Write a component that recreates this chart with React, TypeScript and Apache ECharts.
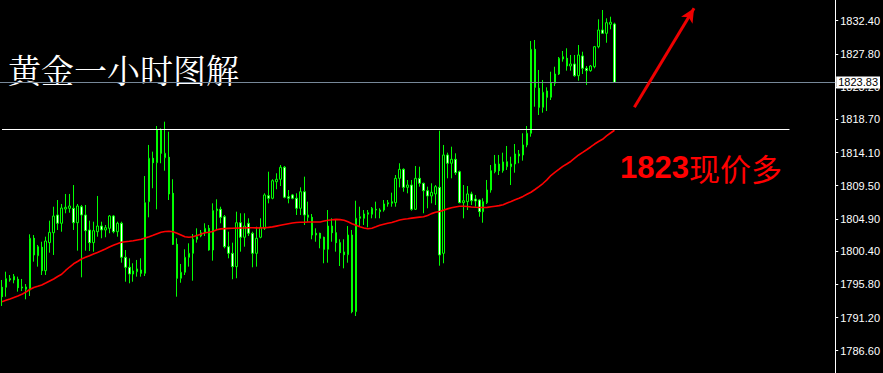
import { useEffect, useRef } from "react";
import * as echarts from "echarts";

// hourly candles: [open, close, low, high]
const ohlc: number[][] = [
  [1795.40, 1794.09, 1792.80, 1796.41], [1795.40, 1796.59, 1794.09, 1797.56], [1796.59, 1796.41, 1796.17, 1797.10],
  [1796.41, 1796.92, 1795.95, 1797.24], [1796.51, 1795.34, 1794.79, 1796.87], [1795.44, 1795.30, 1794.88, 1796.55],
  [1795.12, 1795.44, 1793.73, 1795.85], [1795.02, 1802.20, 1794.19, 1802.75], [1802.20, 1799.88, 1798.95, 1802.65],
  [1799.78, 1801.03, 1798.26, 1801.27], [1800.95, 1797.70, 1797.10, 1801.72], [1797.70, 1801.82, 1797.10, 1802.42],
  [1801.59, 1803.03, 1800.20, 1804.64], [1802.97, 1805.29, 1799.88, 1806.58], [1805.43, 1804.28, 1803.35, 1807.51],
  [1804.28, 1806.40, 1803.11, 1806.96], [1806.26, 1806.50, 1805.67, 1808.35], [1806.36, 1806.68, 1805.75, 1808.35],
  [1806.36, 1804.36, 1803.35, 1809.59], [1804.36, 1806.68, 1800.48, 1806.96], [1806.58, 1805.43, 1796.78, 1806.82],
  [1805.43, 1803.25, 1800.48, 1806.82], [1803.35, 1801.59, 1800.43, 1804.64], [1801.59, 1803.25, 1800.34, 1804.50],
  [1803.11, 1803.90, 1802.42, 1808.07], [1803.90, 1803.35, 1802.20, 1804.50], [1803.35, 1803.67, 1802.34, 1804.04],
  [1803.58, 1805.29, 1802.89, 1805.43], [1805.29, 1803.11, 1802.89, 1805.43], [1803.11, 1804.28, 1802.42, 1804.50],
  [1804.28, 1799.56, 1798.81, 1804.50], [1799.56, 1798.17, 1796.17, 1800.57], [1798.17, 1797.24, 1795.95, 1799.42],
  [1797.24, 1797.66, 1796.17, 1798.73], [1797.56, 1797.94, 1796.87, 1799.19], [1797.80, 1797.34, 1796.87, 1799.42],
  [1797.34, 1807.14, 1796.96, 1810.84], [1807.28, 1813.30, 1805.11, 1815.15], [1813.30, 1812.69, 1809.14, 1814.22],
  [1812.69, 1817.23, 1806.22, 1817.78], [1817.23, 1813.99, 1812.61, 1817.46], [1813.38, 1813.99, 1811.58, 1818.38],
  [1813.44, 1808.35, 1807.51, 1816.99], [1808.44, 1801.36, 1801.27, 1810.39], [1801.36, 1796.65, 1794.09, 1802.20],
  [1796.65, 1797.48, 1796.03, 1798.63], [1797.48, 1799.56, 1797.10, 1800.67], [1799.56, 1800.11, 1798.26, 1801.50],
  [1800.11, 1802.06, 1796.31, 1802.79], [1802.06, 1802.42, 1801.59, 1803.58], [1802.52, 1802.97, 1802.34, 1803.35],
  [1802.97, 1803.58, 1802.52, 1804.28], [1803.58, 1800.57, 1800.48, 1804.04], [1800.57, 1806.03, 1799.09, 1807.05],
  [1806.03, 1806.26, 1803.35, 1807.61], [1806.22, 1805.11, 1804.28, 1806.58], [1805.19, 1801.03, 1800.81, 1805.43],
  [1801.03, 1800.11, 1799.42, 1803.11], [1800.11, 1798.26, 1796.51, 1801.59], [1798.26, 1804.36, 1796.65, 1805.89],
  [1804.36, 1802.34, 1800.34, 1805.67], [1802.34, 1803.90, 1801.03, 1805.67], [1804.28, 1802.89, 1802.52, 1804.97],
  [1802.89, 1800.11, 1798.17, 1803.11], [1800.11, 1802.20, 1798.26, 1803.81], [1802.34, 1803.72, 1802.20, 1804.97],
  [1803.58, 1808.21, 1803.35, 1808.44], [1808.11, 1807.75, 1807.05, 1811.44], [1807.75, 1810.19, 1807.61, 1810.39],
  [1810.05, 1810.39, 1809.00, 1811.22], [1810.39, 1812.05, 1809.45, 1812.37], [1812.05, 1807.89, 1807.75, 1812.23],
  [1807.97, 1807.75, 1807.05, 1808.90], [1808.21, 1807.75, 1807.61, 1808.35], [1807.75, 1806.36, 1805.43, 1808.44],
  [1806.36, 1808.66, 1805.43, 1809.27], [1808.66, 1805.43, 1804.04, 1810.75], [1805.11, 1805.43, 1804.50, 1807.28],
  [1805.11, 1802.65, 1802.06, 1805.57], [1802.89, 1802.65, 1801.72, 1803.58], [1802.89, 1802.20, 1800.81, 1802.97],
  [1802.34, 1800.67, 1798.73, 1802.42], [1800.67, 1803.90, 1798.81, 1806.12], [1803.90, 1802.97, 1801.72, 1804.97],
  [1802.97, 1801.59, 1800.34, 1804.74], [1801.59, 1800.20, 1798.35, 1802.06], [1800.30, 1799.92, 1798.03, 1802.06],
  [1799.92, 1802.65, 1798.81, 1803.90], [1802.65, 1792.01, 1791.79, 1803.35], [1792.01, 1804.97, 1791.41, 1807.41],
  [1804.97, 1805.19, 1803.81, 1806.58], [1804.97, 1805.57, 1804.04, 1806.12], [1805.53, 1805.75, 1803.72, 1806.12],
  [1805.53, 1806.36, 1804.97, 1806.54], [1806.22, 1806.12, 1804.97, 1807.28], [1805.89, 1806.12, 1804.97, 1806.36],
  [1806.12, 1806.96, 1805.89, 1807.51], [1806.96, 1807.14, 1806.58, 1807.51], [1807.05, 1807.28, 1806.58, 1808.53],
  [1807.14, 1810.52, 1806.58, 1810.98], [1810.52, 1811.77, 1809.27, 1812.61], [1811.77, 1809.27, 1808.66, 1811.91],
  [1809.27, 1809.59, 1808.44, 1810.29], [1809.59, 1806.22, 1806.03, 1810.29], [1806.22, 1810.52, 1806.12, 1812.23],
  [1810.52, 1809.83, 1809.36, 1812.13], [1809.83, 1808.80, 1805.67, 1809.91], [1808.80, 1808.07, 1806.36, 1809.36],
  [1808.07, 1808.58, 1807.05, 1809.83], [1808.35, 1809.36, 1806.82, 1809.59], [1809.27, 1799.88, 1798.39, 1817.13],
  [1800.11, 1813.76, 1798.73, 1815.15], [1813.76, 1812.61, 1810.52, 1814.08], [1812.61, 1813.16, 1810.52, 1814.91],
  [1813.16, 1811.30, 1810.98, 1813.99], [1811.44, 1807.14, 1807.05, 1811.58], [1807.14, 1807.41, 1804.97, 1809.59],
  [1807.28, 1808.35, 1806.12, 1809.45], [1808.35, 1807.41, 1806.82, 1808.66], [1807.65, 1807.37, 1806.58, 1808.21],
  [1807.51, 1805.89, 1805.19, 1807.61], [1805.89, 1807.28, 1804.36, 1807.75], [1807.14, 1808.90, 1806.96, 1810.29],
  [1808.90, 1811.58, 1808.53, 1812.37], [1811.44, 1812.51, 1811.22, 1813.76], [1812.51, 1811.58, 1810.98, 1813.76],
  [1811.58, 1812.79, 1811.30, 1814.08], [1812.13, 1812.83, 1811.68, 1815.01], [1812.13, 1812.51, 1809.59, 1813.52],
  [1812.51, 1813.90, 1811.30, 1815.28], [1813.62, 1813.90, 1812.61, 1814.45], [1813.76, 1815.15, 1812.97, 1816.77],
  [1815.15, 1816.77, 1814.83, 1817.78], [1816.77, 1828.43, 1816.30, 1829.58], [1828.43, 1823.15, 1820.46, 1829.72],
  [1823.02, 1820.38, 1819.31, 1825.56], [1820.38, 1822.46, 1819.63, 1824.17], [1822.64, 1821.77, 1819.86, 1823.15],
  [1821.77, 1823.79, 1821.39, 1825.32], [1823.71, 1825.00, 1823.33, 1826.01], [1825.00, 1827.18, 1824.86, 1827.36],
  [1827.08, 1827.40, 1826.71, 1828.19], [1827.18, 1826.11, 1825.46, 1828.57], [1826.11, 1826.39, 1825.46, 1827.64],
  [1826.39, 1824.76, 1824.62, 1827.64], [1824.76, 1827.64, 1824.07, 1829.02], [1827.50, 1825.79, 1825.00, 1828.09],
  [1825.79, 1825.46, 1823.47, 1826.11], [1825.46, 1826.11, 1825.32, 1826.25], [1826.01, 1828.79, 1825.79, 1828.89],
  [1828.79, 1831.11, 1828.57, 1832.59], [1831.11, 1830.65, 1830.55, 1833.88], [1830.65, 1832.12, 1829.34, 1832.73],
  [1831.90, 1832.18, 1831.20, 1832.95], [1831.94, 1823.83, 1823.83, 1832.12],
];

// red moving average, one value per candle
const movingAverage: number[] = [
  1793.40, 1793.59, 1793.77, 1793.98, 1794.19, 1794.42, 1794.74, 1795.09, 1795.37, 1795.53,
  1795.72, 1795.99, 1796.27, 1796.55, 1796.90, 1797.20, 1797.73, 1798.21, 1798.66, 1798.98,
  1799.32, 1799.55, 1799.77, 1800.02, 1800.23, 1800.46, 1800.71, 1800.99, 1801.23, 1801.43,
  1801.64, 1801.71, 1801.78, 1801.86, 1801.96, 1802.06, 1802.24, 1802.42, 1802.61, 1802.82,
  1803.03, 1803.14, 1803.17, 1803.10, 1802.90, 1802.65, 1802.40, 1802.34, 1802.40, 1802.57,
  1802.77, 1802.97, 1803.03, 1803.14, 1803.38, 1803.50, 1803.54, 1803.57, 1803.58, 1803.61,
  1803.63, 1803.64, 1803.67, 1803.65, 1803.64, 1803.63, 1803.67, 1803.71, 1803.78, 1803.89,
  1804.00, 1804.11, 1804.22, 1804.31, 1804.38, 1804.43, 1804.43, 1804.45, 1804.45, 1804.46,
  1804.46, 1804.60, 1804.71, 1804.76, 1804.82, 1804.79, 1804.71, 1804.50, 1804.21, 1804.00,
  1803.81, 1803.63, 1803.52, 1803.60, 1803.79, 1804.00, 1804.15, 1804.29, 1804.39, 1804.56,
  1804.74, 1804.85, 1804.92, 1805.00, 1805.07, 1805.14, 1805.18, 1805.37, 1805.62, 1805.82,
  1805.92, 1806.10, 1806.28, 1806.43, 1806.54, 1806.65, 1806.64, 1806.60, 1806.54, 1806.50,
  1806.47, 1806.46, 1806.49, 1806.57, 1806.65, 1806.73, 1806.86, 1807.08, 1807.30, 1807.54,
  1807.75, 1808.01, 1808.30, 1808.59, 1808.97, 1809.37, 1809.80, 1810.30, 1810.91, 1811.34,
  1811.75, 1812.18, 1812.51, 1812.86, 1813.31, 1813.76, 1814.12, 1814.49, 1814.87, 1815.28,
  1815.63, 1815.94, 1816.40, 1816.81, 1817.19,
];

// price scale labels on the right
const priceTicks: number[] = [
  1786.6, 1791.2, 1795.8, 1800.4, 1804.9, 1809.5, 1814.1, 1818.7, 1823.2, 1827.8, 1832.4,
];
const priceMin = 1783.5;
const priceMax = 1835.27;
const currentPrice = 1823.83;
const supportLevel = 1817.37;
const supportEndSlot = 198;
const arrowStart: [number, number] = [159, 1820.38];
const arrowEnd: [number, number] = [174, 1834.12];
const slotTotal = 210;
const categories: string[] = Array.from({ length: slotTotal }, (_, i) => `H${i + 1}`);
const titleText = "黄金一小时图解";
const calloutNumber = "1823";
const calloutWords = "现价多";

export default function App() {
  const ref = useRef<HTMLDivElement>(null);
  useEffect(() => {
    if (!ref.current) return;
    const chart = echarts.init(ref.current, null, { renderer: "svg" });
    chart.setOption({
      animation: false,
      backgroundColor: "#000000",
      grid: { left: -1.5, right: 44.5, top: 0, bottom: 0, containLabel: false },
      xAxis: {
        type: "category",
        data: categories,
        boundaryGap: true,
        show: false,
      },
      yAxis: {
        type: "value",
        position: "right",
        min: priceMin,
        max: priceMax,
        scale: true,
        splitLine: { show: false },
        axisLine: { show: true, lineStyle: { color: "#ffffff", width: 1 } },
        axisTick: {
          show: true,
          length: 3,
          inside: false,
          customValues: priceTicks,
          lineStyle: { color: "#ffffff" },
        },
        axisLabel: {
          show: true,
          customValues: priceTicks,
          color: "#ffffff",
          fontSize: 11,
          fontFamily: "'Liberation Sans Narrow', 'Liberation Sans', sans-serif",
          margin: 5,
          formatter: (v: number) => v.toFixed(2),
        },
      },
      series: [
        {
          type: "candlestick",
          data: ohlc,
          barWidth: 2,
          itemStyle: {
            color: "#000000",
            color0: "#ffffff",
            borderColor: "#00ff00",
            borderColor0: "#00ff00",
            borderWidth: 1,
          },
          z: 3,
          markLine: {
            silent: true,
            symbol: ["none", "none"],
            animation: false,
            data: [
              {
                yAxis: currentPrice,
                lineStyle: { color: "#778899", width: 1, type: "solid" },
                label: {
                  show: true,
                  position: "end",
                  distance: 1,
                  formatter: currentPrice.toFixed(2),
                  backgroundColor: "#ffffff",
                  color: "#000000",
                  fontSize: 11,
                  fontFamily: "'Liberation Sans Narrow', 'Liberation Sans', sans-serif",
                  padding: [1, 2, 0, 2],
                },
              },
              [
                {
                  coord: [0, supportLevel],
                  lineStyle: { color: "#ffffff", width: 1, type: "solid" },
                  label: { show: false },
                },
                { coord: [supportEndSlot, supportLevel] },
              ],
            ],
          },
        },
        {
          type: "line",
          data: movingAverage,
          symbol: "none",
          lineStyle: { color: "#ff0000", width: 1.6 },
          z: 4,
          markLine: {
            silent: true,
            animation: false,
            symbol: ["none", "arrow"],
            symbolSize: [10, 14],
            data: [
              [
                {
                  coord: arrowStart,
                  lineStyle: { color: "#ee0000", width: 3, type: "solid" },
                  label: { show: false },
                },
                { coord: arrowEnd },
              ],
            ],
          },
        },
      ],
      graphic: [
        {
          type: "text",
          x: 8,
          y: 68,
          style: {
            text: titleText,
            fill: "#ffffff",
            font: "33px 'Noto Serif CJK SC', serif",
            verticalAlign: "middle",
          },
        },
        {
          type: "text",
          x: 620,
          y: 167,
          style: {
            text: `{a|${calloutNumber}}{b|${calloutWords}}`,
            verticalAlign: "middle",
            rich: {
              a: {
                fill: "#ff0000",
                color: "#ff0000",
                fontSize: 31,
                fontWeight: "bold",
                fontFamily: "'Liberation Sans', Arial, sans-serif",
              },
              b: {
                fill: "#ff0000",
                color: "#ff0000",
                fontSize: 31,
                fontWeight: "normal",
                fontFamily: "'Noto Sans CJK SC', sans-serif",
              },
            },
          },
        },
      ],
    });
    return () => chart.dispose();
  }, []);
  return (
    <div
      ref={ref}
      style={{ position: "fixed", left: 0, top: 0, width: 883, height: 373 }}
    />
  );
}
